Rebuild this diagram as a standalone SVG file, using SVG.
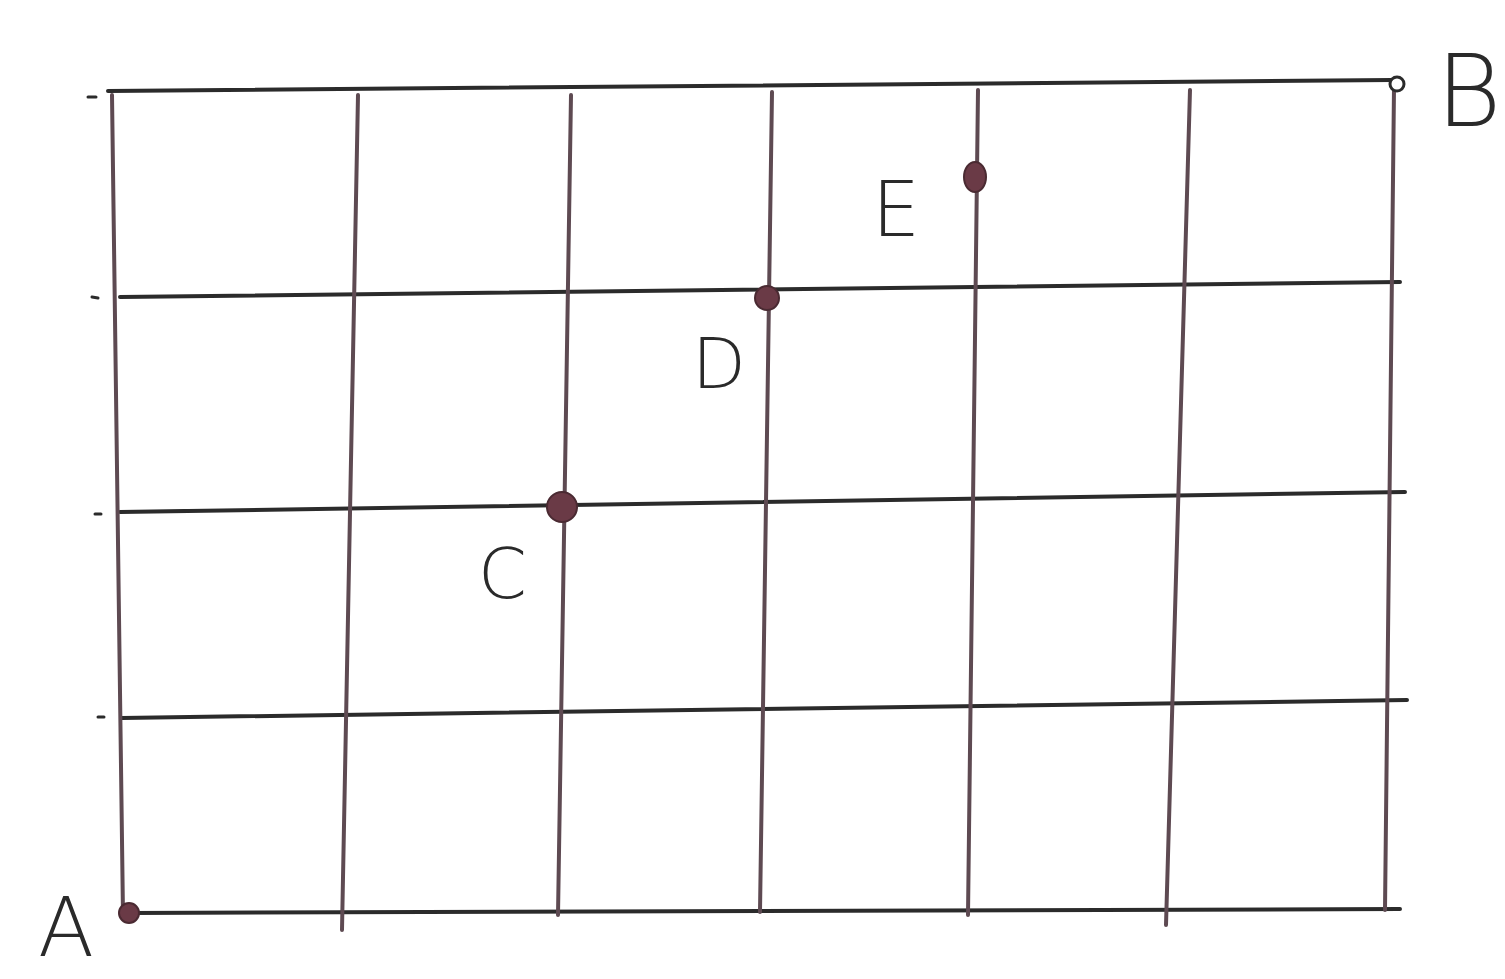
<svg xmlns="http://www.w3.org/2000/svg" width="1505" height="979" viewBox="0 0 1505 979">
<style>
.h{stroke:#2b2b2b;stroke-width:4;stroke-linecap:round;fill:none}
.v{stroke:#5e4a52;stroke-width:4;stroke-linecap:round;fill:none}
.t{stroke:#2b2b2b;stroke-width:3;stroke-linecap:round}
.dot{fill:#6a3a46;stroke:#4a2a32;stroke-width:2}
.lbl{font-family:"DejaVu Sans","Liberation Sans",sans-serif;fill:#2a2a2a;font-weight:300}
</style>
<rect width="1505" height="979" fill="#ffffff"/>
<g id="connectors">
<line class="h" x1="108" y1="91" x2="1392" y2="80"/>
<line class="h" x1="120" y1="297" x2="1400" y2="282"/>
<line class="h" x1="120" y1="512" x2="1405" y2="492"/>
<line class="h" x1="122" y1="718" x2="1407" y2="700"/>
<line class="h" x1="130" y1="913" x2="1400" y2="909"/>
<line class="v" x1="112" y1="95" x2="123" y2="915"/>
<line class="v" x1="358" y1="95" x2="342" y2="930"/>
<line class="v" x1="571" y1="95" x2="558" y2="915"/>
<line class="v" x1="772" y1="92" x2="760" y2="912"/>
<line class="v" x1="978" y1="90" x2="968" y2="915"/>
<line class="v" x1="1190" y1="90" x2="1166" y2="925"/>
<line class="v" x1="1394" y1="88" x2="1385" y2="910"/>
<line class="t" x1="88" y1="97" x2="96" y2="97"/>
<line class="t" x1="92" y1="297" x2="98" y2="298"/>
<line class="t" x1="95" y1="514" x2="101" y2="514"/>
<line class="t" x1="98" y1="717" x2="104" y2="717"/>
</g>
<g id="A"><circle class="dot" cx="129" cy="913" r="10"/><text class="lbl" x="38" y="956" font-size="82">A</text></g>
<g id="B"><circle cx="1397" cy="84" r="7" fill="#ffffff" stroke="#2b2b2b" stroke-width="3"/><text class="lbl" x="1436" y="126" font-size="100">B</text></g>
<g id="C"><circle class="dot" cx="562" cy="507" r="15"/><text class="lbl" x="478" y="598" font-size="70">C</text></g>
<g id="D"><circle class="dot" cx="767" cy="298" r="12"/><text class="lbl" x="692" y="388" font-size="70">D</text></g>
<g id="E"><ellipse class="dot" cx="975" cy="177" rx="11" ry="15"/><text class="lbl" x="872" y="236" font-size="76">E</text></g>
</svg>
